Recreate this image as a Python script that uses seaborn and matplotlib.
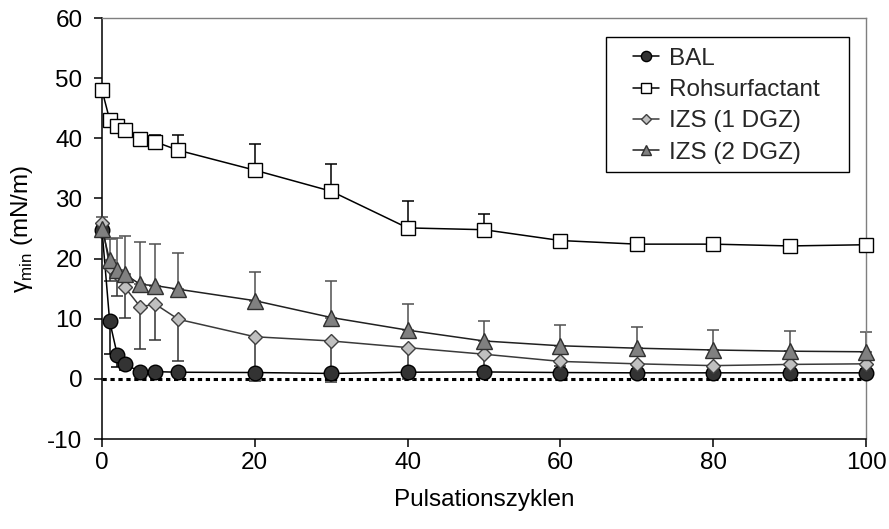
import numpy as np
import matplotlib
matplotlib.use("Agg")
import matplotlib.pyplot as plt
import seaborn as sns
from matplotlib.patches import Rectangle

# Pulsation cycles
cycles = [0, 1, 2, 3, 5, 7, 10, 20, 30, 40, 50, 60, 70, 80, 90, 100]

# gamma_min (mN/m) per preparation
bal = [24.8, 9.6, 4.0, 2.4, 1.2, 1.2, 1.1, 1.05, 0.9, 1.1, 1.15, 1.05, 1.0, 1.0, 1.0, 1.0]
roh = [48.0, 43.1, 42.0, 41.4, 39.9, 39.4, 38.0, 34.7, 31.2, 25.1, 24.8, 23.0, 22.4, 22.4, 22.1, 22.3]
izs1 = [25.9, 18.6, 17.4, 15.2, 12.0, 12.4, 9.9, 7.0, 6.3, 5.2, 4.1, 2.9, 2.5, 2.2, 2.4, 2.5]
izs2 = [25.0, 19.7, 18.1, 17.4, 15.7, 15.5, 14.9, 13.0, 10.2, 8.1, 6.3, 5.5, 5.1, 4.8, 4.6, 4.5]

# Standard deviations (drawn one-sided)
bal_sd = [0.5, 5.5, 2.1, 1.0, 0.3, 0.3, 0.3, 0.3, 0.3, 0.3, 0.3, 0.3, 0.3, 0.3, 0.3, 0.3]
roh_sd = [0.5, 0.5, 0.5, 0.5, 0.5, 1.1, 2.6, 4.3, 4.6, 4.4, 2.6, 0.5, 0.5, 0.5, 0.5, 0.5]
izs1_sd = [0.5, 2.3, 3.7, 5.0, 7.0, 5.9, 7.0, 7.4, 6.8, 5.2, 3.5, 0.8, 0.8, 0.8, 0.8, 0.8]
izs2_sd = [1.9, 3.5, 5.3, 6.4, 7.1, 7.0, 6.1, 4.8, 6.1, 4.4, 3.4, 3.5, 3.5, 3.3, 3.3, 3.3]

labels = ["BAL", "Rohsurfactant", "IZS (1 DGZ)", "IZS (2 DGZ)"]
x_ticks = [0, 20, 40, 60, 80, 100]
y_ticks = [-10, 0, 10, 20, 30, 40, 50, 60]

sns.set_theme(style="white")
plt.rcParams["font.family"] = ["Liberation Sans", "DejaVu Sans"]
plt.rcParams["mathtext.fontset"] = "custom"
plt.rcParams["mathtext.rm"] = "Liberation Sans"
plt.rcParams["axes.unicode_minus"] = False

FS = 17.5
fig = plt.figure(figsize=(8.89, 5.29), dpi=100)
ax = fig.add_axes([102 / 889, 1 - 439 / 529, 764 / 889, 421 / 529])

zeros = np.zeros(len(cycles))
err_kw = dict(fmt="none", elinewidth=1.1, capsize=4.5, capthick=1.1, zorder=2, clip_on=False)
ax.errorbar(cycles, bal, yerr=[bal_sd, zeros], ecolor="black", **err_kw)
ax.errorbar(cycles, roh, yerr=[zeros, roh_sd], ecolor="black", **err_kw)
ax.errorbar(cycles, izs1, yerr=[izs1_sd, zeros], ecolor="#333333", **err_kw)
ax.errorbar(cycles, izs2, yerr=[zeros, izs2_sd], ecolor="#505050", **err_kw)

styles = [
    (bal, dict(color="black", marker="o", markersize=10.5, markerfacecolor="#333333", markeredgecolor="black")),
    (roh, dict(color="black", marker="s", markersize=10.5, markerfacecolor="white", markeredgecolor="black")),
    (izs1, dict(color="#3a3a3a", marker="D", markersize=7, markerfacecolor="#c0c0c0", markeredgecolor="#404040")),
    (izs2, dict(color="#202020", marker="^", markersize=11, markerfacecolor="#808080", markeredgecolor="#303030")),
]
for (vals, kw), lab in zip(styles, labels):
    sns.lineplot(x=cycles, y=vals, ax=ax, errorbar=None, linewidth=1.1,
                 markeredgewidth=1.0, label=lab, clip_on=False, zorder=3, **kw)

ax.axhline(0, color="black", linewidth=2.2, linestyle=(0, (1.4, 1.2)), zorder=1)

ax.set_xlim(0, 100)
ax.set_ylim(-10, 60)
ax.set_xticks(x_ticks)
ax.set_yticks(y_ticks)
ax.tick_params(axis="y", direction="out", length=6, width=1.1, pad=8, labelsize=FS,
               left=True, right=False, colors="black")
ax.tick_params(axis="x", direction="out", length=5.5, width=1.1, pad=4, labelsize=FS,
               bottom=True, top=False, colors="black")

for side in ["left", "bottom"]:
    ax.spines[side].set_color("black")
    ax.spines[side].set_linewidth(1.1)
for side in ["top", "right"]:
    ax.spines[side].set_color("#7f7f7f")
    ax.spines[side].set_linewidth(1.0)

ax.set_xlabel("Pulsationszyklen", fontsize=FS, labelpad=11, color="black")
ax.set_ylabel("γ$_\\mathregular{min}$ (mN/m)", fontsize=FS, labelpad=9, color="black")

# Legend with its own frame
frame = Rectangle((0.6593, 0.6342), 0.3184, 0.32, transform=ax.transAxes,
                  facecolor="white", edgecolor="black", linewidth=1.0, zorder=4.5)
ax.add_patch(frame)
leg = ax.legend(loc="upper left", bbox_to_anchor=(0.695, 0.929), frameon=False,
                handlelength=1.05, handletextpad=0.45, labelspacing=0.38,
                markerscale=0.7, borderpad=0, borderaxespad=0, fontsize=FS)
leg.set_zorder(5)

fig.savefig("out.png", dpi=100, facecolor="white")
